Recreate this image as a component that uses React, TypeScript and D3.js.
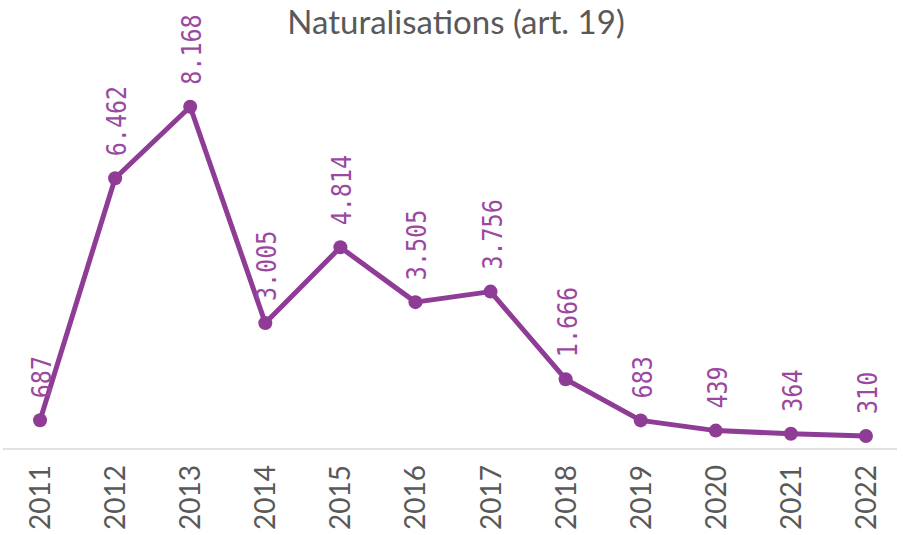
import React from 'react';
import * as d3 from 'd3';

const years = ['2011', '2012', '2013', '2014', '2015', '2016', '2017', '2018', '2019', '2020', '2021', '2022'];
const naturalisations = [687, 6462, 8168, 3005, 4814, 3505, 3756, 1666, 683, 439, 364, 310];
const valueLabels = ['687', '6.462', '8.168', '3.005', '4.814', '3.505', '3.756', '1.666', '683', '439', '364', '310'];

const width = 903;
const height = 535;
const purple = '#8f3c96';
const labelPurple = '#9b48a0';

const App = () => {
  const x = d3.scaleBand().domain(years).range([2.5, 903.5]);
  const y = d3.scaleLinear().domain([0, 10000]).range([449, 30]);
  const cx = (d: string) => (x(d) as number) + x.bandwidth() / 2;

  const line = d3.line<number>()
    .x((_, i) => cx(years[i]))
    .y(d => y(d));

  return (
    <svg width={width} height={height} style={{ position: 'absolute', left: 0, top: 0 }}>
      <rect width={width} height={height} fill="#fff" />
      <text x={456} y={34} textAnchor="middle" fontFamily="Lato" fontSize={33} fill="#595959">
        Naturalisations (art. 19)
      </text>
      <line x1={3} x2={897} y1={y(0)} y2={y(0)} stroke="#d9d9d9" strokeWidth={1.5} />
      <path d={line(naturalisations) || ''} fill="none" stroke={purple} strokeWidth={5} strokeLinejoin="round" />
      {naturalisations.map((v, i) => (
        <circle key={i} cx={cx(years[i])} cy={y(v)} r={7} fill={purple} />
      ))}
      {naturalisations.map((v, i) => (
        <text key={'l' + i}
          transform={`translate(${cx(years[i]) + 11},${y(v) - 22}) rotate(-90) scale(0.9,1)`}
          fontFamily="DejaVu Sans Mono" fontSize={26} fill={labelPurple}>
          {valueLabels[i]}
        </text>
      ))}
      {years.map(d => (
        <text key={d}
          transform={`translate(${cx(d) + 10},465) rotate(-90)`}
          textAnchor="end" fontFamily="Lato" fontSize={28} fill="#595959">
          {d}
        </text>
      ))}
    </svg>
  );
};

export default App;
